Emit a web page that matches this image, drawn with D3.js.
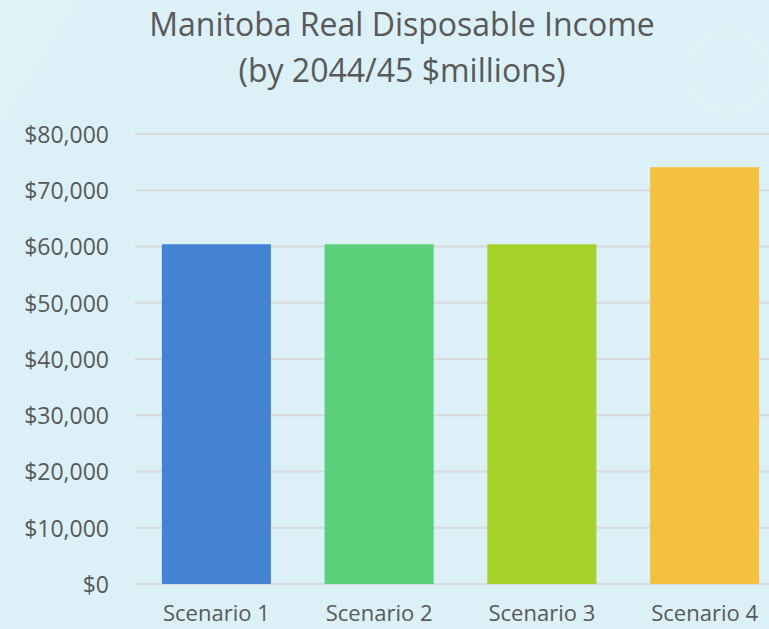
<!DOCTYPE html>
<html>
<head>
  <meta charset="utf-8">
  <title>Manitoba Real Disposable Income</title>
  <style>
  body { margin: 0; background: #dbf0f7; overflow: hidden; }
  svg { display: block; font-family: "Open Sans", sans-serif; }
  .grid line { stroke: #d8dadb; stroke-width: 2px; }
  .axis text { fill: #595959; }
  </style>
</head>
<body>
  <svg width="769" height="629"></svg>
  <script src="https://d3js.org/d3.v7.min.js"></script>
  <script>
  // data
  var scenarios = ["Scenario 1", "Scenario 2", "Scenario 3", "Scenario 4"];
  var income = [60400, 60400, 60400, 74100];
  var barColors = ["#4482d4", "#5bd07a", "#a6d22a", "#f4c040"];
  var yTicks = [0, 10000, 20000, 30000, 40000, 50000, 60000, 70000, 80000];
  var titleLines = ["Manitoba Real Disposable Income", "(by 2044/45 $millions)"];

  var svg = d3.select("svg"),
      margin = {top: 134, left: 135, bottom: 45},
      height = +svg.attr("height") - margin.top - margin.bottom,
      plotWidth = 651,
      g = svg.append("g").attr("transform", "translate(" + margin.left + "," + margin.top + ")");

  // faint decoration in the background
  var deco = svg.insert("g", ":first-child").attr("fill", "none").attr("stroke", "#dff2f8");
  deco.append("circle").attr("cx", 728).attr("cy", 72).attr("r", 40).attr("stroke-width", 10);
  deco.append("path").attr("d", "M0,0 L80,0 L0,130 Z").attr("fill", "#dff2f8").attr("stroke", "none");

  var x = d3.scaleBand()
    .domain(scenarios)
    .range([0, plotWidth])
    .paddingInner(0.33)
    .paddingOuter(0.165);

  var y = d3.scaleLinear()
    .domain([0, 80000])
    .range([height, 0]);

  // gridlines
  g.append("g")
    .attr("class", "grid")
    .selectAll("line")
    .data(yTicks)
    .join("line")
    .attr("x1", 0)
    .attr("x2", plotWidth)
    .attr("y1", function(d) { return y(d); })
    .attr("y2", function(d) { return y(d); });

  // bars
  g.selectAll(".bar")
    .data(income)
    .join("rect")
    .attr("class", "bar")
    .attr("x", function(d, i) { return x(scenarios[i]); })
    .attr("width", x.bandwidth())
    .attr("y", function(d) { return y(d); })
    .attr("height", function(d) { return height - y(d); })
    .attr("fill", function(d, i) { return barColors[i]; });

  // y axis
  var fmt = d3.format("$,");
  g.append("g")
    .attr("class", "axis")
    .attr("transform", "translate(-26,0)")
    .call(d3.axisLeft(y).tickValues(yTicks).tickFormat(fmt).tickSize(0).tickPadding(0))
    .call(function(a) { a.select(".domain").remove(); })
    .selectAll("text")
    .attr("font-size", "23px")
    .attr("font-family", "Open Sans, sans-serif")
    .attr("dy", "0.36em");

  // x axis
  g.append("g")
    .attr("class", "axis")
    .attr("transform", "translate(0," + height + ")")
    .call(d3.axisBottom(x).tickSize(0).tickPadding(21))
    .call(function(a) { a.select(".domain").remove(); })
    .selectAll("text")
    .attr("font-size", "22px")
    .attr("font-family", "Open Sans, sans-serif");

  // title
  svg.append("g")
    .selectAll("text")
    .data(titleLines)
    .join("text")
    .attr("x", 402)
    .attr("y", function(d, i) { return 36 + i * 46; })
    .attr("text-anchor", "middle")
    .attr("fill", "#595959")
    .attr("font-size", "32px")
    .text(function(d) { return d; });
  </script>
</body>
</html>
